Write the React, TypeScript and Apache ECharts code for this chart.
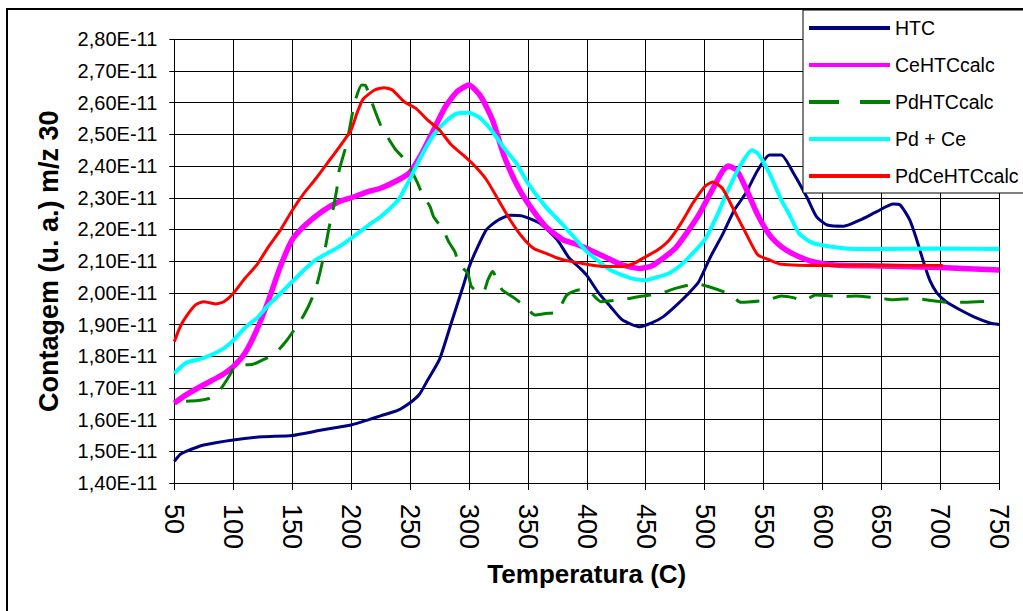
import React, { useEffect, useRef } from "react";
import * as echarts from "echarts";

// Values in units of 1E-11
const htcT = [50, 55, 60, 75, 100, 125, 150, 175, 200, 215, 225, 240, 250, 258, 265, 275, 285, 295, 300, 305, 315, 325, 335, 345, 360, 375, 385, 395, 400, 410, 420, 430, 445, 455, 465, 475, 485, 495, 505, 515, 525, 535, 545, 555, 565, 575, 587, 595, 604, 618, 632, 646, 660, 666, 674, 680, 686, 691, 697, 705, 717, 731, 742, 750];
const htcV = [1.468, 1.49, 1.50, 1.52, 1.536, 1.546, 1.55, 1.567, 1.583, 1.60, 1.612, 1.63, 1.653, 1.68, 1.725, 1.79, 1.905, 2.02, 2.08, 2.125, 2.20, 2.23, 2.245, 2.243, 2.22, 2.167, 2.11, 2.075, 2.055, 2.00, 1.957, 1.915, 1.893, 1.905, 1.925, 1.957, 1.993, 2.035, 2.114, 2.183, 2.26, 2.315, 2.387, 2.435, 2.435, 2.38, 2.30, 2.24, 2.214, 2.21, 2.23, 2.256, 2.28, 2.277, 2.23, 2.167, 2.094, 2.04, 2.00, 1.972, 1.946, 1.92, 1.905, 1.90];

const ceT = [50, 60, 75, 90, 100, 110, 120, 130, 140, 150, 160, 175, 190, 200, 215, 225, 240, 250, 260, 270, 280, 290, 300, 310, 320, 330, 340, 350, 365, 380, 390, 400, 415, 430, 445, 455, 465, 475, 485, 495, 505, 515, 520, 527, 535, 545, 555, 565, 575, 590, 610, 650, 700, 750];
const ceV = [1.652, 1.678, 1.71, 1.74, 1.767, 1.81, 1.883, 1.977, 2.083, 2.167, 2.21, 2.256, 2.288, 2.30, 2.32, 2.33, 2.356, 2.38, 2.44, 2.514, 2.587, 2.635, 2.656, 2.62, 2.545, 2.43, 2.346, 2.283, 2.21, 2.167, 2.155, 2.14, 2.114, 2.088, 2.077, 2.085, 2.11, 2.14, 2.19, 2.246, 2.315, 2.383, 2.40, 2.388, 2.33, 2.246, 2.183, 2.146, 2.123, 2.10, 2.088, 2.085, 2.08, 2.072];

const pdT = [60, 70, 80, 90, 97, 103, 116, 126, 135, 145, 152, 160, 167, 172, 177, 181, 184, 188, 190, 196, 199, 203, 209, 212, 215, 219, 225, 237, 247, 256, 260, 267, 270, 278, 283, 288, 292, 299, 302, 307, 312, 316, 320, 328, 338, 348, 356, 365, 375, 383, 394, 402, 412, 432, 444, 462, 476, 493, 503, 521, 531, 554, 565, 575, 584, 594, 617, 628, 649, 659, 680, 688, 708, 721, 744];
const pdV = [1.658, 1.66, 1.668, 1.70, 1.74, 1.773, 1.774, 1.79, 1.807, 1.848, 1.885, 1.93, 1.984, 2.04, 2.12, 2.20, 2.25, 2.33, 2.388, 2.467, 2.524, 2.60, 2.656, 2.655, 2.63, 2.587, 2.53, 2.456, 2.414, 2.35, 2.315, 2.272, 2.24, 2.20, 2.16, 2.13, 2.088, 2.062, 2.02, 2.005, 2.00, 2.04, 2.067, 2.01, 1.985, 1.956, 1.93, 1.935, 1.94, 1.993, 2.01, 2.005, 1.972, 1.98, 1.988, 1.998, 2.015, 2.028, 2.02, 1.996, 1.97, 1.978, 1.99, 1.985, 1.975, 1.993, 1.988, 1.99, 1.983, 1.978, 1.983, 1.978, 1.97, 1.97, 1.974];

const pdCeT = [50, 60, 75, 90, 100, 110, 120, 130, 140, 150, 160, 170, 180, 190, 200, 215, 225, 240, 250, 260, 270, 280, 290, 300, 310, 320, 330, 340, 350, 365, 380, 390, 400, 410, 420, 430, 440, 450, 460, 470, 480, 490, 500, 510, 520, 530, 540, 545, 555, 565, 572, 580, 590, 600, 620, 650, 700, 750];
const pdCeV = [1.746, 1.779, 1.795, 1.82, 1.85, 1.89, 1.92, 1.962, 1.998, 2.035, 2.072, 2.104, 2.125, 2.146, 2.172, 2.214, 2.24, 2.293, 2.36, 2.435, 2.498, 2.54, 2.566, 2.568, 2.55, 2.508, 2.456, 2.41, 2.346, 2.272, 2.214, 2.172, 2.13, 2.10, 2.072, 2.056, 2.044, 2.04, 2.05, 2.062, 2.088, 2.125, 2.167, 2.24, 2.325, 2.40, 2.45, 2.44, 2.377, 2.293, 2.246, 2.188, 2.16, 2.15, 2.14, 2.138, 2.14, 2.138];

const pdCeHtcT = [50, 55, 60, 68, 75, 85, 92, 100, 110, 120, 130, 140, 150, 160, 170, 180, 190, 200, 205, 210, 220, 228, 235, 245, 255, 265, 275, 285, 295, 305, 315, 325, 335, 345, 355, 365, 375, 385, 400, 415, 430, 440, 450, 460, 470, 480, 490, 500, 507, 515, 525, 535, 545, 555, 565, 600, 650, 702];
const pdCeHtcV = [1.846, 1.893, 1.925, 1.962, 1.972, 1.965, 1.972, 1.998, 2.046, 2.088, 2.146, 2.198, 2.26, 2.314, 2.36, 2.41, 2.46, 2.514, 2.567, 2.61, 2.64, 2.647, 2.64, 2.603, 2.582, 2.545, 2.514, 2.467, 2.435, 2.40, 2.356, 2.293, 2.23, 2.177, 2.14, 2.125, 2.11, 2.10, 2.09, 2.083, 2.083, 2.093, 2.114, 2.135, 2.167, 2.22, 2.283, 2.335, 2.35, 2.33, 2.26, 2.188, 2.12, 2.104, 2.09, 2.086, 2.086, 2.086];

const seriesNames = ["HTC", "CeHTCcalc", "PdHTCcalc", "Pd + Ce", "PdCeHTCcalc"];
const seriesColors = ["#000080", "#ff00ff", "#008000", "#00ffff", "#ff0000"];

const pairs = (t: number[], v: number[]) => t.map((x, i) => [x, v[i]]);

export default function App() {
  const ref = useRef<HTMLDivElement>(null);
  useEffect(() => {
    const chart = echarts.init(ref.current!, null, { renderer: "svg" });
    const font = "'Liberation Sans', Arial, sans-serif";
    const datasets = [
      pairs(htcT, htcV),
      pairs(ceT, ceV),
      pairs(pdT, pdV),
      pairs(pdCeT, pdCeV),
      pairs(pdCeHtcT, pdCeHtcV),
    ];
    const widths = [3, 5.5, 3, 4, 3];
    chart.setOption({
      animation: false,
      backgroundColor: "#ffffff",
      textStyle: { fontFamily: font },
      grid: { left: 174.3, right: 23.7, top: 39.3, bottom: 128, containLabel: false },
      xAxis: {
        type: "value",
        min: 50,
        max: 750,
        interval: 50,
        name: "Temperatura (C)",
        nameLocation: "middle",
        nameGap: 78,
        nameTextStyle: { fontSize: 26, fontWeight: "bold", color: "#000", fontFamily: font },
        axisLine: { show: true, onZero: false, lineStyle: { color: "#000", width: 1 } },
        axisTick: { show: true, length: 7, lineStyle: { color: "#000" } },
        axisLabel: { rotate: -90, fontSize: 27, color: "#000", margin: 21, fontFamily: font },
        splitLine: { show: true, lineStyle: { color: "#000", width: 1 } },
      },
      yAxis: {
        type: "value",
        min: 1.4,
        max: 2.8,
        interval: 0.1,
        name: "Contagem (u. a.) m/z 30",
        nameLocation: "middle",
        nameGap: 112,
        nameTextStyle: { fontSize: 27, fontWeight: "bold", color: "#000", fontFamily: font },
        axisLine: { show: true, lineStyle: { color: "#000", width: 1 } },
        axisTick: { show: true, length: 5, lineStyle: { color: "#000" } },
        axisLabel: {
          fontSize: 20,
          color: "#000",
          margin: 17,
          fontFamily: font,
          formatter: (v: number) => v.toFixed(2).replace(".", ",") + "E-11",
        },
        splitLine: { show: true, lineStyle: { color: "#000", width: 1 } },
      },
      legend: {
        orient: "vertical",
        left: 803,
        top: 10,
        padding: [7, 40, 6, 6],
        itemWidth: 81,
        itemHeight: 4,
        itemGap: 15,
        selectedMode: false,
        backgroundColor: "#fff",
        borderColor: "#000",
        borderWidth: 1,
        textStyle: { fontSize: 19.5, color: "#000", lineHeight: 22, fontFamily: font },
        data: seriesNames.map((n, i) => ({
          name: n,
          icon: i === 2 ? "path://M0,0H30V4H0Z M51,0H81V4H51Z" : "rect",
          itemStyle: { color: seriesColors[i], opacity: 1, borderWidth: 0 },
        })),
      },
      series: seriesNames.map((n, i) => ({
        name: n,
        type: "line",
        data: datasets[i],
        symbol: "none",
        showSymbol: false,
        smooth: 0.2,
        color: seriesColors[i],
        itemStyle: { color: seriesColors[i] },
        lineStyle: {
          color: seriesColors[i],
          width: widths[i],
          type: i === 2 ? [24, 14] : "solid",
        },
        z: 2 + i * 0.01,
      })),
      graphic: [
        {
          type: "rect",
          shape: { x: 7, y: 9, width: 1100, height: 700 },
          style: { fill: "none", stroke: "#000", lineWidth: 2 },
          silent: true,
        },
      ],
    });
    return () => chart.dispose();
  }, []);
  return <div ref={ref} style={{ position: "fixed", left: 0, top: 0, width: 1023, height: 611 }} />;
}
